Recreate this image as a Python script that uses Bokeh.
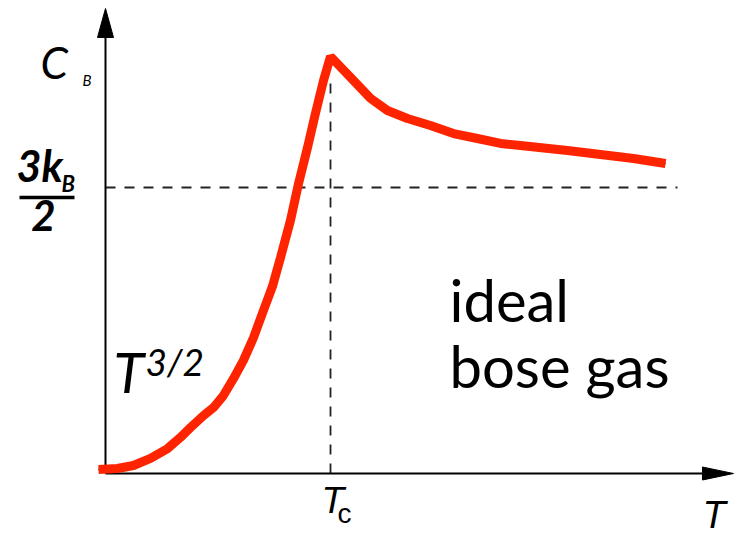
from bokeh.plotting import figure
from bokeh.models import Range1d, ColumnDataSource
from bokeh.core.properties import value
from bokeh.embed import file_html
from bokeh.resources import INLINE

# ---- data (T in units of Tc, C in units of kB) ----
T_vals = [-0.031, 0.053, 0.124, 0.200, 0.276, 0.333, 0.378, 0.436, 0.480, 0.524,
          0.569, 0.613, 0.658, 0.702, 0.742, 0.778, 0.822, 0.858, 0.898, 0.933,
          0.969, 1.000, 1.089, 1.178, 1.253, 1.342, 1.444, 1.547, 1.653, 1.756,
          1.844, 2.053, 2.347, 2.489]
C_vals = [0.021, 0.026, 0.042, 0.079, 0.131, 0.189, 0.241, 0.304, 0.346, 0.409,
          0.498, 0.593, 0.713, 0.855, 0.981, 1.133, 1.327, 1.521, 1.710, 1.888,
          2.061, 2.187, 2.077, 1.967, 1.904, 1.862, 1.825, 1.783, 1.757, 1.731,
          1.720, 1.694, 1.652, 1.626]
Tc = 1.0
C_classical = 1.5
T_dash_end = 2.542
C_dash_top = 2.077
T_axis_end = 2.791
C_axis_end = 2.439

# ---- layout: pixel <-> data ----
W, H = 740, 535
OX, OY = 105, 473         # origin in pixels
SX, SY = 225.0, 190.67    # pixels per unit

def tx(px):
    return (px - OX) / SX

def cy(py):
    return (OY - py) / SY

p = figure(width=W, height=H, output_backend="svg", toolbar_location=None,
           x_range=Range1d(tx(0), tx(W)), y_range=Range1d(cy(H), cy(0)),
           min_border=0)
p.axis.visible = False
p.grid.visible = False
p.outline_line_color = None
p.background_fill_color = "white"

# dashed guides
p.line([0, T_dash_end], [C_classical, C_classical], line_color="#222222",
       line_width=1.8, line_dash="10 9")
p.line([Tc, Tc], [0, C_dash_top], line_color="#222222",
       line_width=1.8, line_dash="10 9")

# axes
ah_len_x, ah_w_x = 31 / SX, 13 / SY
ah_len_y, ah_w_y = 29 / SY, 16 / SX
p.line([0, T_axis_end - ah_len_x], [0, 0], line_color="black", line_width=2)
p.line([0, 0], [0, C_axis_end - ah_len_y], line_color="black", line_width=2)
p.patch([T_axis_end, T_axis_end - ah_len_x, T_axis_end - ah_len_x],
        [0, ah_w_x / 2, -ah_w_x / 2], fill_color="black", line_color="black")
p.patch([0, ah_w_y / 2, -ah_w_y / 2],
        [C_axis_end, C_axis_end - ah_len_y, C_axis_end - ah_len_y],
        fill_color="black", line_color="black")

# curve
src = ColumnDataSource(dict(T=T_vals, C=C_vals))
p.line("T", "C", source=src, line_color="black", line_width=2)
p.line("T", "C", source=src, line_color="#FF2400", line_width=9)

def label(txt, px, py, size, style="normal", font="Lato", align="left"):
    # baseline correction for how the text glyph is placed
    py = py - 0.4 * size
    p.text([tx(px)], [cy(py)], text=[txt], text_font=value(font),
           text_font_size=f"{size}px", text_font_style=style,
           text_align=align, text_baseline="alphabetic", text_color="black")

# y label C_B
label("C", 40, 79, 44, "italic")
label("B", 82, 85, 15, "italic")
# 3k_B / 2
label("3k", 16, 182, 43, "bold italic")
label("B", 61, 192, 22, "bold italic")
p.line([tx(19), tx(74)], [cy(197), cy(197)], line_color="black", line_width=3.5)
label("2", 43, 232, 42, "bold italic", align="center")
# T^{3/2}
label("T", 113, 393, 56, "italic")
label("3/2", 145, 376, 37, "italic")
# ideal bose gas
label("ideal", 449, 322, 58)
label("bose gas", 449, 388, 58)
# Tc
label("T", 321, 515, 37, "italic", font="Liberation Sans")
label("c", 337, 524, 28, "normal", font="Liberation Sans")
# T
label("T", 702, 530, 38, "italic", font="Liberation Sans")

open("out.html", "w").write(file_html(p, INLINE))
